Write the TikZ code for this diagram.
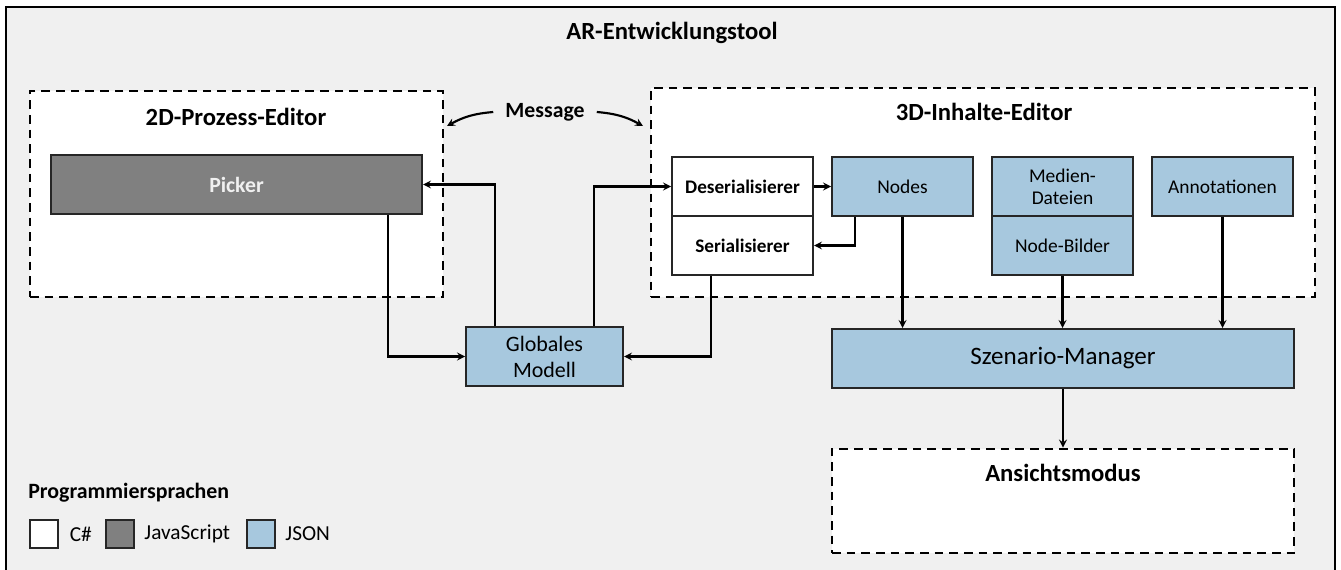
\documentclass[tikz,border=0pt]{standalone}
\usepackage{fontspec}
\setmainfont{Carlito}
\usetikzlibrary{positioning}
\definecolor{json}{RGB}{167,200,222}
\definecolor{js}{RGB}{128,128,128}
\definecolor{bg}{RGB}{240,240,240}
\definecolor{rim}{RGB}{38,38,38}

\begin{document}
\begin{tikzpicture}[>=stealth, x=0.75pt, y=-0.75pt,
    box/.style={draw=rim, line width=1.5pt, minimum width=105.75pt, minimum height=44.25pt, inner sep=0pt, align=center, font=\fontsize{14.6}{16.5}\selectfont},
    csharp/.style={box, fill=white, font=\bfseries\fontsize{14.4}{16}\selectfont},
    jsonbox/.style={box, fill=json},
    area/.style={draw=black, line width=2.2pt, dash pattern=on 6.5pt off 4.5pt, fill=white, inner sep=0pt},
    head/.style={font=\bfseries\fontsize{18.5}{20}\selectfont},
    link/.style={->, line width=1.6pt},
    key/.style={draw=rim, line width=1.3pt, minimum size=21pt, inner sep=0pt},
    keytext/.style={inner sep=0pt, font=\fontsize{16}{18}\selectfont}]
    \useasboundingbox (0,0) rectangle (1341,570);
    \draw[fill=bg, line width=1.6pt] (6,7) rectangle (1335,573);
    \node(title)[head] at (672,33) {AR-Entwicklungstool};

    \node(ed2d)[area, minimum width=309.75pt, minimum height=154.5pt] at (236.5,194) {};
    \node(ed2dtitle)[head] at (236,117) {2D-Prozess-Editor};
    \node(picker)[box, fill=js, text=bg, minimum width=278.25pt, font=\bfseries\fontsize{16.3}{18}\selectfont] at (236.5,184.5) {Picker};

    \node(ed3d)[area, minimum width=498pt, minimum height=156.75pt] at (983,192.5) {};
    \node(ed3dtitle)[head] at (984,112) {3D-Inhalte-Editor};
    \node(deser)[csharp] at (742.5,186.5) {Deserialisierer};
    \node(ser)[csharp] at (742.5,245.5) {Serialisierer};
    \node(nodes)[jsonbox] at (902.5,186.5) {Nodes};
    \node(medien)[jsonbox] at (1062.5,186.5) {Medien-\\Dateien};
    \node(bilder)[jsonbox] at (1062.5,245.5) {Node-Bilder};
    \node(annot)[jsonbox] at (1222.5,186.5) {Annotationen};

    \node(msg)[inner sep=9pt, font=\bfseries\fontsize{16.3}{18}\selectfont] at (545,112) {Message};
    \coordinate(msgl) at (447,126);
    \coordinate(msgr) at (643,126);

    \node(glob)[jsonbox, minimum width=117.75pt, font=\fontsize{16.5}{19.5}\selectfont] at (544.5,356.5) {Globales\\Modell};
    \node(szen)[jsonbox, minimum width=346.5pt, font=\fontsize{18.8}{20}\selectfont] at (1063,358.5) {Szenario-Manager};
    \node(ansicht)[area, minimum width=346.5pt, minimum height=78pt] at (1063,501) {};
    \node(ansichttitle)[head] at (1063,473) {Ansichtsmodus};

    \draw[link] (msg.west) to[bend right=12] (msgl);
    \draw[link] (msg.east) to[bend left=12] (msgr);
    \draw[link] ([xshift=-26.25pt]picker.south east) |- (glob.west);
    \draw[link] ([xshift=-37.125pt]glob.north) |- (picker.east);
    \draw[link] ([xshift=37.125pt]glob.north) |- (deser.west);
    \draw[link] ([xshift=-23.625pt]ser.south) |- (glob.east);
    \draw[link] (deser) -- (nodes);
    \draw[link] ([xshift=-35.625pt]nodes.south) |- (ser.east);
    \draw[link] (nodes) -- (nodes |- szen.north);
    \draw[link] (bilder) -- (bilder |- szen.north);
    \draw[link] (annot) -- (annot |- szen.north);
    \draw[link] (szen) -- (ansicht);

    \node(legend)[anchor=west, inner sep=0pt, font=\bfseries\fontsize{16.4}{18}\selectfont] at (28,493) {Programmiersprachen};
    \node(keycs)[key, fill=white] at (44,534) {};
    \node(keycstext)[keytext, right=8pt of keycs] {C\#};
    \node(keyjs)[key, fill=js] at (120,534) {};
    \node(keyjstext)[keytext, right=7pt of keyjs] {JavaScript};
    \node(keyjson)[key, fill=json] at (261,534) {};
    \node(keyjsontext)[keytext, right=7pt of keyjson] {JSON};
\end{tikzpicture}
\end{document}
